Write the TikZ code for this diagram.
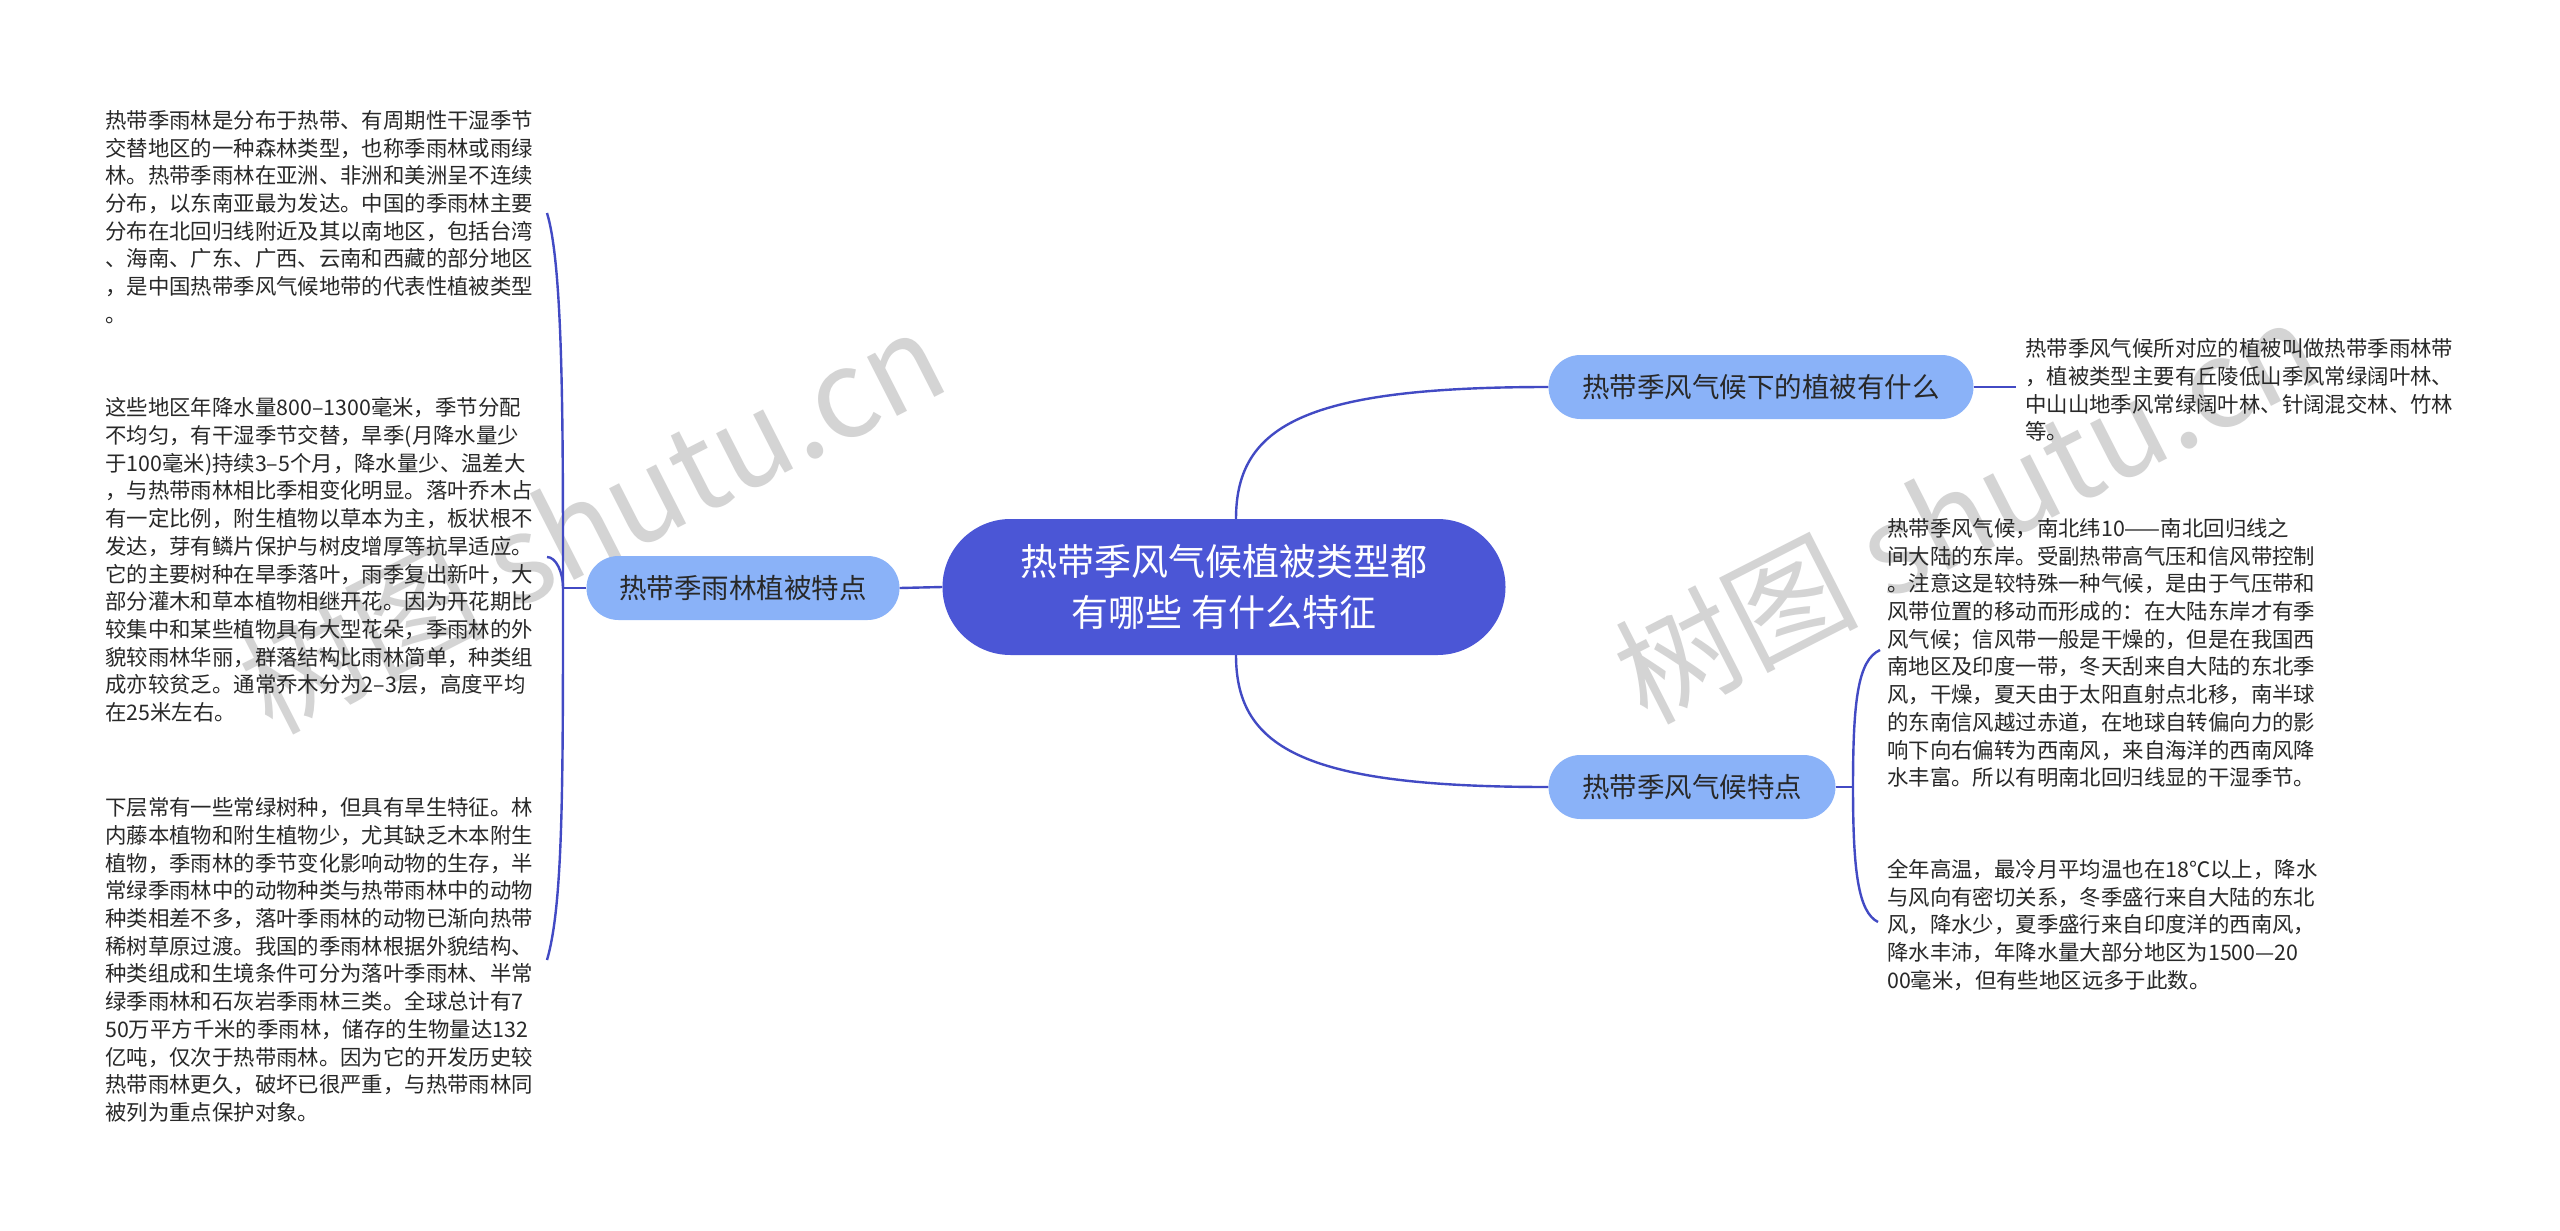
\documentclass[tikz,border=0pt]{standalone}
\usepackage{fontspec}
\setmainfont{Noto Sans CJK SC}
\usetikzlibrary{positioning}
\definecolor{rootblue}{RGB}{75,86,214}
\definecolor{topicblue}{RGB}{138,178,248}
\definecolor{linkblue}{RGB}{66,74,196}
\definecolor{notegray}{RGB}{40,40,40}
\definecolor{markgray}{RGB}{212,212,212}

\begin{document}
\begin{tikzpicture}[
  x=1pt, y=-1pt,
  root/.style={fill=rootblue, text=white, rounded corners=68pt, minimum width=563pt,
               minimum height=136pt, inner sep=0pt, align=center,
               font=\fontsize{37}{51}\selectfont},
  topic/.style={fill=topicblue, text=notegray, rounded corners=32pt, minimum height=64pt,
                inner sep=0pt, font=\fontsize{27.5}{33}\selectfont},
  note/.style={anchor=west, align=left, inner sep=0pt, text=notegray,
               font=\fontsize{21.4}{27.7}\selectfont},
  link/.style={draw=linkblue, line width=2.4pt},
  mark_style/.style={text=markgray, rotate=27, font=\fontsize{122}{122}\selectfont},
]

%% ===== Canvas ================================================================
\fill[white] (0,0) rectangle (2560,1231);
\useasboundingbox (0,0) rectangle (2560,1231);

%% ===== Watermarks ============================================================
\node[mark_style] (wm1) at (592,520) {树图 shutu.cn};
\node[mark_style] (wm2) at (1966,510) {树图 shutu.cn};

%% ===== Root and topics =======================================================
\node[root] (ctr) at (1224,587) {热带季风气候植被类型都\\有哪些 有什么特征};
\node[topic, minimum width=313pt] (lft) at (743,588) {热带季雨林植被特点};
\node[topic, minimum width=425pt] (trn) at (1761,387) {热带季风气候下的植被有什么};
\node[topic, minimum width=287pt] (brn) at (1692,787) {热带季风气候特点};

%% ===== Notes: left ===========================================================
\node[note] (n1) at (105,217) {热带季雨林是分布于热带、有周期性干湿季节\\
交替地区的一种森林类型，也称季雨林或雨绿\\
林。热带季雨林在亚洲、非洲和美洲呈不连续\\
分布，以东南亚最为发达。中国的季雨林主要\\
分布在北回归线附近及其以南地区，包括台湾\\
、海南、广东、广西、云南和西藏的部分地区\\
，是中国热带季风气候地带的代表性植被类型\\
。};
\node[note] (n2) at (105,560) {这些地区年降水量800–1300毫米，季节分配\\
不均匀，有干湿季节交替，旱季(月降水量少\\
于100毫米)持续3–5个月，降水量少、温差大\\
，与热带雨林相比季相变化明显。落叶乔木占\\
有一定比例，附生植物以草本为主，板状根不\\
发达，芽有鳞片保护与树皮增厚等抗旱适应。\\
它的主要树种在旱季落叶，雨季复出新叶，大\\
部分灌木和草本植物相继开花。因为开花期比\\
较集中和某些植物具有大型花朵，季雨林的外\\
貌较雨林华丽，群落结构比雨林简单，种类组\\
成亦较贫乏。通常乔木分为2–3层，高度平均\\
在25米左右。};
\node[note] (n3) at (105,960) {下层常有一些常绿树种，但具有旱生特征。林\\
内藤本植物和附生植物少，尤其缺乏木本附生\\
植物，季雨林的季节变化影响动物的生存，半\\
常绿季雨林中的动物种类与热带雨林中的动物\\
种类相差不多，落叶季雨林的动物已渐向热带\\
稀树草原过渡。我国的季雨林根据外貌结构、\\
种类组成和生境条件可分为落叶季雨林、半常\\
绿季雨林和石灰岩季雨林三类。全球总计有7\\
50万平方千米的季雨林，储存的生物量达132\\
亿吨，仅次于热带雨林。因为它的开发历史较\\
热带雨林更久，破坏已很严重，与热带雨林同\\
被列为重点保护对象。};

%% ===== Notes: right ==========================================================
\node[note] (n4) at (2025,390) {热带季风气候所对应的植被叫做热带季雨林带\\
，植被类型主要有丘陵低山季风常绿阔叶林、\\
中山山地季风常绿阔叶林、针阔混交林、竹林\\
等。};
\node[note] (n5) at (1887,653) {热带季风气候，南北纬10——南北回归线之\\
间大陆的东岸。受副热带高气压和信风带控制\\
。注意这是较特殊一种气候，是由于气压带和\\
风带位置的移动而形成的：在大陆东岸才有季\\
风气候；信风带一般是干燥的，但是在我国西\\
南地区及印度一带，冬天刮来自大陆的东北季\\
风，干燥，夏天由于太阳直射点北移，南半球\\
的东南信风越过赤道，在地球自转偏向力的影\\
响下向右偏转为西南风，来自海洋的西南风降\\
水丰富。所以有明南北回归线显的干湿季节。};
\node[note] (n6) at (1887,925) {全年高温，最冷月平均温也在18℃以上，降水\\
与风向有密切关系，冬季盛行来自大陆的东北\\
风，降水少，夏季盛行来自印度洋的西南风，\\
降水丰沛，年降水量大部分地区为1500—20\\
00毫米，但有些地区远多于此数。};

%% ===== Brace ends ============================================================
\coordinate (jl) at (563,588);
\coordinate (c1) at (547,213);
\coordinate (c2) at (547,557);
\coordinate (c3) at (547,960);
\coordinate (jr) at (1853,787);
\coordinate (ca) at (1880,650);
\coordinate (cb) at (1878,922);
\coordinate (cc) at (2016,387);

%% ===== Links =================================================================
\draw[link] (ctr.west) -- (lft.east);
\draw[link] ([xshift=12pt]ctr.north) .. controls +(0,-95) and +(-240,0) .. (trn.west);
\draw[link] ([xshift=12pt]ctr.south) .. controls +(0,95) and +(-240,0) .. (brn.west);

\draw[link] (lft.west) -- (jl);
\draw[link] (jl) .. controls (563,420) and (563,265) .. (c1);
\draw[link] (jl) .. controls (563,572) and (556,557) .. (c2);
\draw[link] (jl) .. controls (563,790) and (563,905) .. (c3);

\draw[link] (brn.east) -- (jr);
\draw[link] (jr) .. controls (1853,700) and (1858,660) .. (ca);
\draw[link] (jr) .. controls (1853,870) and (1858,912) .. (cb);
\draw[link] (trn.east) -- (cc);

\end{tikzpicture}
\end{document}
